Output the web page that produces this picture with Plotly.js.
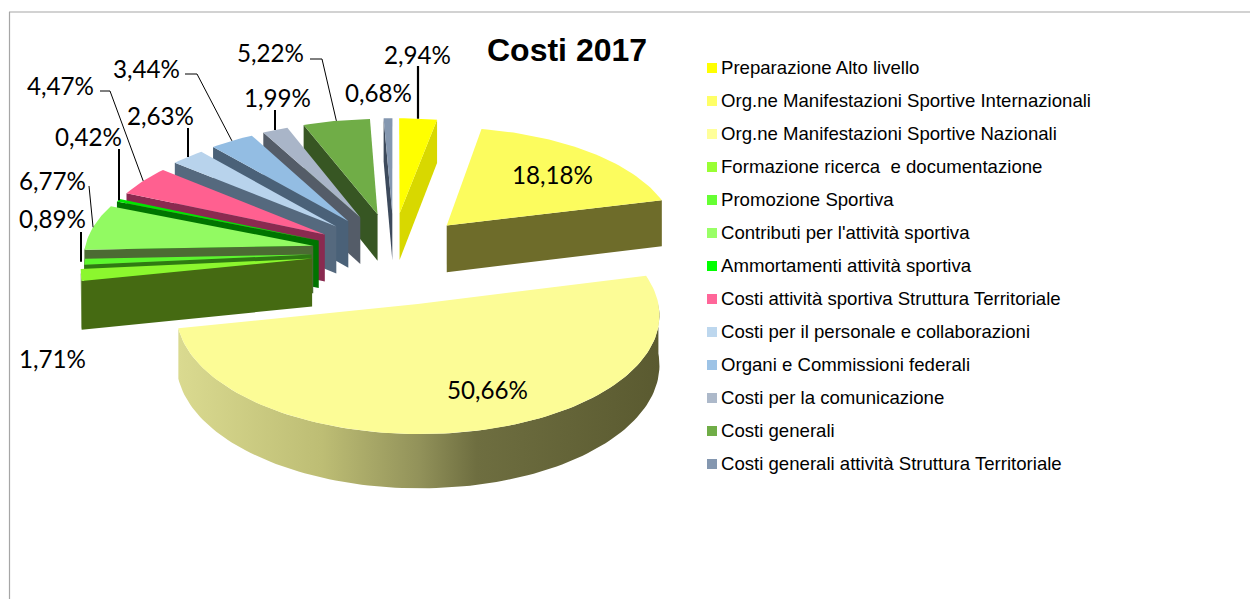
<!DOCTYPE html>
<html><head><meta charset="utf-8">
<script src="https://cdn.plot.ly/plotly-3.0.1.min.js"></script>
<style>html,body{margin:0;padding:0;background:#fff}#c{width:1250px;height:599px}</style>
</head><body><div id="c"></div>
<script>
const categories = ["Preparazione Alto livello","Org.ne Manifestazioni Sportive Internazionali","Org.ne Manifestazioni Sportive Nazionali","Formazione ricerca  e documentazione","Promozione Sportiva","Contributi per l'attività sportiva","Ammortamenti attività sportiva","Costi attività sportiva Struttura Territoriale","Costi per il personale e collaborazioni","Organi e Commissioni federali","Costi per la comunicazione","Costi generali","Costi generali attività Struttura Territoriale"];
const values = [2.94,18.18,50.66,1.71,0.89,6.77,0.42,4.47,2.63,3.44,1.99,5.22,0.68];
const faceColors = ["#FFFF00","#FCFC5E","#FCFC96","#8CF72E","#5CF72E","#92FA62","#00E600","#FF6090","#B8D3EC","#93BDE3","#A9B5C8","#70AD47","#8497B0"];
const swatchColors = ["#FFFF00","#FFFF66","#FFFF99","#99FF33","#66FF33","#99FF66","#00FF00","#FF6699","#BDD7EE","#9DC3E6","#ADB9CA","#70AD47","#8497B0"];
const wallColors = ["#D8D800","#6E6C2A","#6A6A38","#456A12","#2F7A12","#4C6B33","#007400","#8A2A50","#55697E","#4A6178","#545C68","#375623","#3D4A5C"];

// projection of the exploded tilted pie
const CX=394, CY=258.5, A=230, B=110, K=0.0817, D=48, PX=0.36, PY=0.424;
// per-slice explosion adjustments, by slice index
const tweaks={0:{ox:0.025},1:{ox:0.235,r:1.012},2:{ox:0.1,oy:-0.4,r:1.012},3:{oy:0},4:{oy:0.036,r:0.985},5:{oy:0.118}};
const rad=d=>d*Math.PI/180;
function proj(X,Y,down){const s=1/(1+K*Y);return [CX+A*X*s, CY-B*Y*s+(down?D*s:0)];}
let cum=0;
const slices=values.map((v,i)=>{const t1=cum*3.6;cum+=v;const t2=cum*3.6;const m=(t1+t2)/2;
  return Object.assign({i,t1,t2,m,ox:PX*Math.sin(rad(m)),oy:PY*Math.cos(rad(m)),r:1},tweaks[i]||{});});
const tip=(s,d)=>proj(s.ox,s.oy,d);
const rim=(s,t,d)=>proj(s.ox+s.r*Math.sin(rad(t)),s.oy+s.r*Math.cos(rad(t)),d);
function arc(s,a,b,d){const n=Math.max(2,Math.ceil(Math.abs(b-a)/1.5));const o=[];for(let k=0;k<=n;k++)o.push(rim(s,a+(b-a)*k/n,d));return o;}
function poly(pts,color,extra){return Object.assign({type:'scatter',mode:'lines',x:pts.map(p=>p[0]),y:pts.map(p=>p[1]),fill:'toself',fillcolor:color,line:{width:0,color:color},hoverinfo:'skip',showlegend:false},extra||{});}

const traces=[];
const order=[0,1,12,11,10,9,8,7,6,5,4,3,2];
order.forEach(i=>{const s=slices[i];
  // radial wall
  if(i<2){traces.push(poly([tip(s,0),rim(s,s.t2,0),rim(s,s.t2,1),tip(s,1)],wallColors[i]));}
  else if(i>2){traces.push(poly([tip(s,0),rim(s,s.t1,0),rim(s,s.t1,1),tip(s,1)],wallColors[i]));}
  // outer wall
  const a=Math.max(s.t1,90),b=Math.min(s.t2,270);
  if(b>a){const top=arc(s,a,b,0),bot=arc(s,a,b,1).reverse();
    const extra=i===2?{fillgradient:{type:'horizontal',colorscale:[[0,'#DADA90'],[0.3,'#BDBD74'],[0.5,'#92925A'],[0.62,'#6E6E40'],[1,'#5A5A30']]}}:{};
    traces.push(poly(top.concat(bot),wallColors[i],extra));}
  // top face
  traces.push(poly([tip(s,0)].concat(arc(s,s.t1,s.t2,0)),faceColors[i]));
});

// legend
const legendY=categories.map((c,i)=>68+33*i);
traces.push({type:'scatter',mode:'markers',x:categories.map(()=>712),y:legendY,marker:{symbol:'square',size:10,color:swatchColors},hoverinfo:'skip',showlegend:false});
traces.push({type:'scatter',mode:'text',x:categories.map(()=>721),y:legendY.map(y=>y+1.5),text:categories,textposition:'middle right',textfont:{family:'Liberation Sans',size:18.6,color:'#000'},hoverinfo:'skip',showlegend:false});

// data labels
const labelPos=[[417,54],[552,174],[487,389],[52,358],[52,218],[52,180],[88,136],[60,85],[160,115],[146,68],[277,97],[270,52],[378,92]];
const leaders={0:{from:[418,66],w:2.2},4:{from:[81,232],w:2},5:{from:[89,186],w:1},6:{from:[119,149],w:2},7:{from:[100,91],elbow:[110,91],w:1},8:{from:[188,128],w:2},9:{from:[185,74],elbow:[197,74],w:1},10:{from:[275,110],w:2},11:{from:[310,59],elbow:[322,59],w:1}};
Object.keys(leaders).forEach(k=>{const L=leaders[k],s=slices[k];const end=rim(s,s.m,0);
  const pts=[L.from];if(L.elbow)pts.push(L.elbow);pts.push(L.w>1?[L.from[0],end[1]]:end);
  traces.push({type:'scatter',mode:'lines',x:pts.map(p=>p[0]),y:pts.map(p=>p[1]),line:{color:'#000',width:L.w},hoverinfo:'skip',showlegend:false});});
const fmt=v=>v.toFixed(2).replace('.',',')+'%';
const annotations=values.map((v,i)=>({x:labelPos[i][0],y:labelPos[i][1],xref:'x',yref:'y',text:fmt(v),showarrow:false,xanchor:'center',yanchor:'middle',font:{family:'Lato',size:24.2,color:'#000'}}));
annotations.push({x:567,y:50,xref:'x',yref:'y',text:'<b>Costi 2017</b>',showarrow:false,xanchor:'center',yanchor:'middle',font:{family:'Liberation Sans',size:32,color:'#000'}});

const frame='#A6A6A6';
const layout={width:1250,height:599,margin:{l:0,r:0,t:0,b:0},paper_bgcolor:'#fff',plot_bgcolor:'#fff',showlegend:false,
  xaxis:{range:[0,1250],visible:false,fixedrange:true},yaxis:{range:[599,0],visible:false,fixedrange:true},
  annotations,
  shapes:[{type:'line',x0:9.5,x1:9.5,y0:12,y1:599,line:{color:frame,width:1.2}},{type:'line',x0:9,x1:1250,y0:12,y1:12,line:{color:frame,width:1.2}}]};
Plotly.newPlot('c',traces,layout,{displayModeBar:false,staticPlot:true});
</script></body></html>
